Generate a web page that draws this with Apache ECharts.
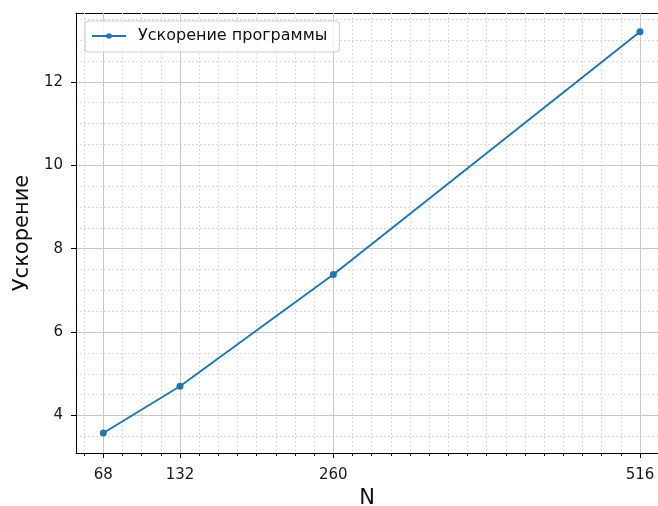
<!DOCTYPE html>
<html><head><meta charset="utf-8">
<script src="https://cdn.jsdelivr.net/npm/echarts@6/dist/echarts.min.js"></script>
<style>html,body{margin:0;padding:0;background:#fff}#c{width:658px;height:506px}</style>
</head><body><div id="c"></div>
<script>
const categories = [68, 132, 260, 516];
const speedup = [3.58, 4.70, 7.38, 13.20];
const xTickLabels = [68, 132, 260, 516];
const yTickLabels = [4, 6, 8, 10, 12];
const seriesName = 'Ускорение программы';

const X_MIN = 45.2, X_MAX = 531.0;
const Y_MIN = 3.1, Y_MAX = 13.65;
const font = 'DejaVu Sans';

// minor grid positions (every 16 on x, aligned to the major ticks; every 0.5 on y)
const xMinor = [];
for (let v = 52; v <= X_MAX; v += 16) xMinor.push(v);
const yMinor = [];
for (let v = 3.5; v <= Y_MAX; v += 0.5) yMinor.push(v);

const chart = echarts.init(document.getElementById('c'), null, {renderer: 'canvas'});
chart.setOption({
  animation: false,
  backgroundColor: '#fff',
  textStyle: {fontFamily: font},
  grid: {left: 76, top: 13, right: 0, bottom: 53, show: false, containLabel: false, outerBoundsMode: 'none'},
  legend: {
    left: 85, top: 21, padding: [7, 12, 8, 6],
    backgroundColor: 'rgba(255,255,255,0.8)', borderColor: '#cccccc', borderWidth: 1, borderRadius: 3,
    itemWidth: 34, itemHeight: 7, itemGap: 8,
    textStyle: {fontFamily: font, fontSize: 16, color: '#111', padding: [0, 0, 0, 7]},
    data: [seriesName]
  },
  xAxis: [
    {
      type: 'value', min: X_MIN, max: X_MAX, position: 'bottom',
      name: 'N', nameLocation: 'middle', nameGap: 34,
      nameTextStyle: {fontFamily: font, fontSize: 21, color: '#111'},
      axisLine: {show: true, lineStyle: {color: '#000', width: 1}},
      axisTick: {show: true, length: 5, customValues: xTickLabels, lineStyle: {color: '#000'}},
      axisLabel: {show: true, customValues: xTickLabels, margin: 15, fontFamily: font, fontSize: 15, color: '#1a1a1a'},
      splitLine: {show: true, lineStyle: {color: '#c8c8c8', width: 1}},
      z: 3
    },
    {
      type: 'value', min: X_MIN, max: X_MAX, position: 'bottom',
      axisLine: {show: false},
      axisTick: {show: true, length: 3, customValues: xMinor, lineStyle: {color: '#000'}},
      axisLabel: {show: false, customValues: xMinor},
      splitLine: {show: true, lineStyle: {color: '#dcdcdc', width: 1, type: [2, 2]}},
      z: 1
    },
    {
      type: 'value', min: X_MIN, max: X_MAX, position: 'top',
      axisLine: {show: true, lineStyle: {color: '#000', width: 1}},
      axisTick: {show: false}, axisLabel: {show: false}, splitLine: {show: false}
    }
  ],
  yAxis: [
    {
      type: 'value', min: Y_MIN, max: Y_MAX,
      name: 'Ускорение', nameLocation: 'middle', nameGap: 42,
      nameTextStyle: {fontFamily: font, fontSize: 21, color: '#111'},
      axisLine: {show: true, lineStyle: {color: '#000', width: 1}},
      axisTick: {show: true, length: 5, customValues: yTickLabels, lineStyle: {color: '#000'}},
      axisLabel: {show: true, customValues: yTickLabels, margin: 13, fontFamily: font, fontSize: 15, color: '#1a1a1a'},
      splitLine: {show: true, lineStyle: {color: '#c8c8c8', width: 1}},
      z: 3
    },
    {
      type: 'value', min: Y_MIN, max: Y_MAX,
      axisLine: {show: false},
      axisTick: {show: true, length: 3, customValues: yMinor, lineStyle: {color: '#000'}},
      axisLabel: {show: false, customValues: yMinor},
      splitLine: {show: true, lineStyle: {color: '#dcdcdc', width: 1, type: [2, 2]}},
      z: 1
    }
  ],
  series: [{
    name: seriesName, type: 'line', xAxisIndex: 0, yAxisIndex: 0,
    data: categories.map((c, i) => [c, speedup[i]]),
    symbol: 'circle', symbolSize: 7, showSymbol: true,
    lineStyle: {color: '#1f77b4', width: 2},
    itemStyle: {color: '#1f77b4'},
    z: 5
  }]
});
</script></body></html>
